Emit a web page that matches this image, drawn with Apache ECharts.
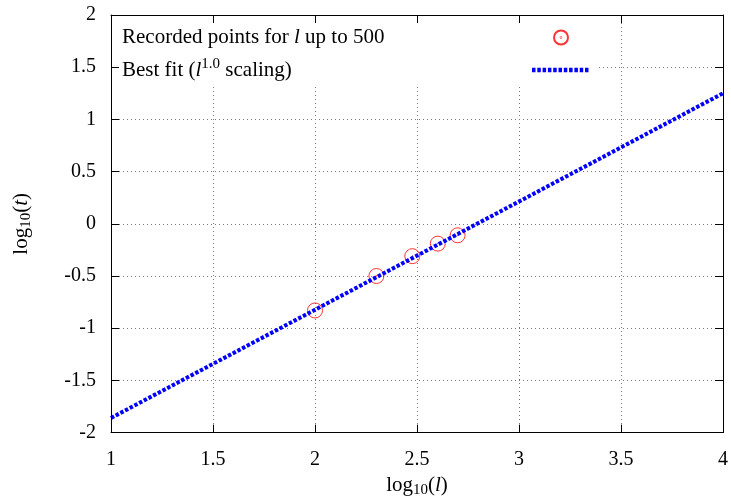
<!DOCTYPE html>
<html>
<head>
    <meta charset="utf-8">
    <title>log t vs log l</title>
    <script src="https://cdn.jsdelivr.net/npm/echarts@6/dist/echarts.min.js"></script>
    <style>
        html, body { margin: 0; padding: 0; background: #fff; }
        #main { width: 731px; height: 503px; }
    </style>
</head>
<body>
<div id="main"></div>
<script type="text/javascript">
    // recorded points, l = 100..500 (log10)
    var pointX = [2.0, 2.301, 2.477, 2.602, 2.699];
    var pointY = [-0.83, -0.50, -0.31, -0.19, -0.11];
    // best fit line end points
    var fitX = [1, 4];
    var fitY = [-1.86, 1.25];
    var xTicks = [1, 1.5, 2, 2.5, 3, 3.5, 4];
    var yTicks = [-2, -1.5, -1, -0.5, 0, 0.5, 1, 1.5, 2];

    var font = 'Liberation Serif';
    var big = 21, small = 15;
    var myChart = echarts.init(document.getElementById('main'));

    function zip(a, b) {
        return a.map(function (v, i) { return [v, b[i]]; });
    }

    // measure text so legend icons line up in one column
    var ctx = document.createElement('canvas').getContext('2d');
    function tw(s, size, italic) {
        ctx.font = (italic ? 'italic ' : '') + size + 'px "' + font + '"';
        return ctx.measureText(s).width;
    }
    var textBox = 405;
    var gap1 = textBox - (tw('Recorded points for ', big) + tw('l', big, true) + tw(' up to 500', big));
    var gap2 = textBox - (tw('Best fit (', big) + tw('l', big, true) + tw('1.0', small) + tw(' scaling)', big));

    var rich = {
        n: { fontFamily: font, fontSize: big, color: '#000', lineHeight: 26 },
        i: { fontFamily: font, fontSize: big, fontStyle: 'italic', color: '#000', lineHeight: 26 },
        sub: { fontFamily: font, fontSize: small, color: '#000', verticalAlign: 'bottom', lineHeight: 26 },
        sup: { fontFamily: font, fontSize: small, color: '#000', verticalAlign: 'top', lineHeight: 26 },
        g1: { width: gap1, lineHeight: 26 },
        g2: { width: gap2, lineHeight: 26 }
    };

    // axis with ticks + border (drawn above legend background)
    function frameAxis(pos, ticks, showLabel, extra) {
        var ax = {
            type: 'value',
            position: pos,
            min: ticks[0],
            max: ticks[ticks.length - 1],
            interval: 0.5,
            z: 6,
            axisLine: { show: true, onZero: false, lineStyle: { color: '#000', width: 1 } },
            axisTick: { show: true, inside: true, length: 8, lineStyle: { color: '#000' } },
            axisLabel: {
                show: showLabel, margin: pos === 'bottom' ? 17 : 15,
                fontFamily: font, fontSize: 20, color: '#000'
            },
            splitLine: { show: false }
        };
        for (var k in extra) ax[k] = extra[k];
        return ax;
    }
    // axis only for the dotted grid (below legend background)
    function gridAxis(ticks) {
        return {
            type: 'value',
            min: ticks[0],
            max: ticks[ticks.length - 1],
            interval: 0.5,
            z: 0,
            axisLine: { show: false },
            axisTick: { show: false },
            axisLabel: { show: false },
            splitLine: { show: true, lineStyle: { color: '#777', width: 1, type: [1, 3] } }
        };
    }

    var ringDot = 'path://M14,7A7,7,0,1,1,0,7A7,7,0,1,1,14,7ZM7.3,7A0.3,0.3,0,1,1,6.7,7A0.3,0.3,0,1,1,7.3,7Z';

    myChart.setOption({
        animation: false,
        backgroundColor: '#fff',
        grid: { left: 111, right: 8, top: 15, bottom: 67 },
        legend: {
            left: 112,
            top: 15,
            orient: 'vertical',
            align: 'right',
            backgroundColor: '#fff',
            padding: [12, 5, 6, 10],
            itemWidth: 58,
            itemHeight: 14,
            itemGap: 9,
            z: 4,
            textStyle: { fontFamily: font, fontSize: big, color: '#000', rich: rich },
            formatter: function (name) {
                if (name === 'points') return '{n|Recorded points for }{i|l}{n| up to 500}{g1|}';
                return '{n|Best fit (}{i|l}{sup|1.0}{n| scaling)}{g2|}';
            },
            data: ['points', {
                name: 'fit',
                itemStyle: { opacity: 0 },
                lineStyle: { width: 4.5, type: [3.5, 1.8], color: '#0000ff' }
            }]
        },
        xAxis: [
            frameAxis('bottom', xTicks, true, {
                name: '{n|log}{sub|10}{n|(}{i|l}{n|)}',
                nameLocation: 'middle',
                nameGap: 33,
                nameTextStyle: { rich: rich }
            }),
            frameAxis('top', xTicks, false, {}),
            gridAxis(xTicks)
        ],
        yAxis: [
            frameAxis('left', yTicks, true, {
                name: '{n|log}{sub|10}{n|(}{i|t}{n|)}',
                nameLocation: 'middle',
                nameRotate: 90,
                nameGap: 77,
                nameTextStyle: { rich: rich }
            }),
            frameAxis('right', yTicks, false, {}),
            gridAxis(yTicks)
        ],
        series: [
            {
                name: 'points',
                type: 'scatter',
                symbol: ringDot,
                symbolSize: 15,
                z: 3,
                itemStyle: { color: 'rgba(0,0,0,0)', borderColor: '#ff0000', borderWidth: 1 },
                data: zip(pointX, pointY)
            },
            {
                name: 'fit',
                type: 'line',
                symbol: 'none',
                z: 4,
                lineStyle: { color: '#0000ff', width: 4, type: [3.5, 1.8] },
                data: zip(fitX, fitY)
            }
        ]
    });
</script>
</body>
</html>
